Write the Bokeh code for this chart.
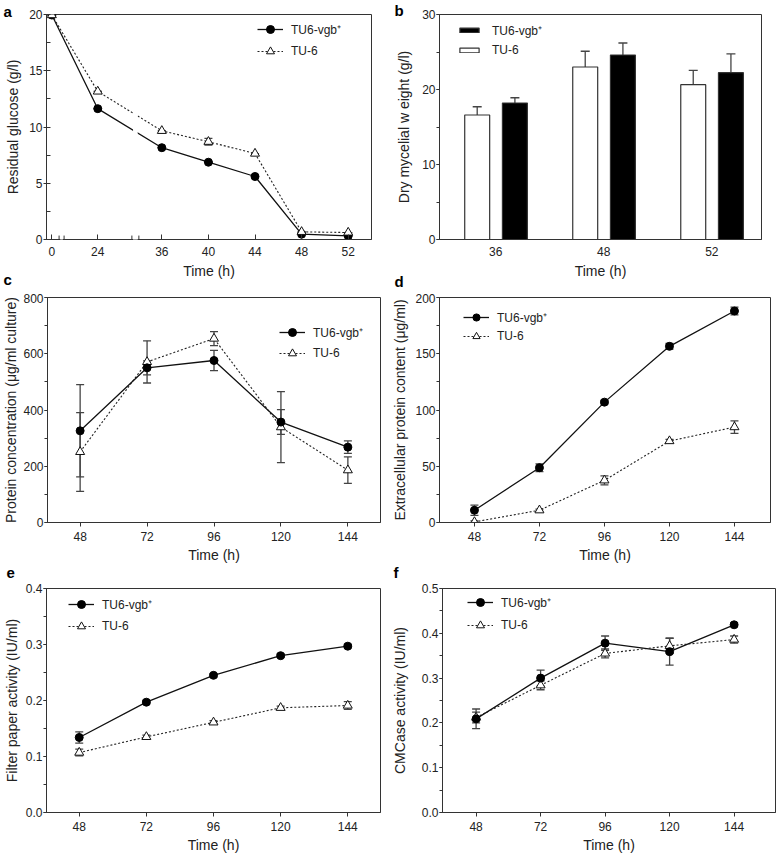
import numpy as np
from bokeh.plotting import figure
from bokeh.models import (ColumnDataSource, Whisker, TeeHead, Legend, LegendItem, Arrow, Title,
                          SingleIntervalTicker, FixedTicker, Range1d, NumeralTickFormatter)
from bokeh.layouts import column, row
from bokeh.embed import file_html
from bokeh.resources import INLINE

FONT = "Liberation Sans"
DARK = "#222222"
ERR = "#444444"
S1 = "TU6-vgb\u207a"
S2 = "TU-6"

# ---------------- data ----------------
# a: residual glucose (g/l)
glc_time = [0, 24, 36, 40, 44, 48, 52]
glc_vgb = [19.95, 11.63, 8.16, 6.87, 5.6, 0.47, 0.32]
glc_tu6 = [19.95, 13.16, 9.66, 8.69, 7.64, 0.68, 0.62]
glc_tu6_err = [0, 0, 0, 0.3, 0, 0, 0]

# b: dry mycelial weight (g/l)
dw_time = ["36", "48", "52"]
dw_tu6 = [16.6, 23.0, 20.65]
dw_tu6_err = [1.1, 2.1, 1.9]
dw_vgb = [18.2, 24.6, 22.25]
dw_vgb_err = [0.7, 1.6, 2.5]

# c-f common time axis
t_h = [48, 72, 96, 120, 144]

# c: protein concentration
pc_vgb = [326, 550, 576, 357, 268]
pc_vgb_err = [164, 25, 36, 44, 22]
pc_tu6 = [251, 571, 654, 339, 186]
pc_tu6_err = [140, 75, 25, 126, 47]

# d: extracellular protein
ep_vgb = [10.9, 48.7, 107, 156.6, 188]
ep_vgb_err = [4.5, 3.5, 1.5, 2.5, 3.5]
ep_tu6 = [0.5, 10.9, 37.5, 72.4, 84.8]
ep_tu6_err = [1.0, 1.0, 4.0, 1.5, 5.5]

# e: filter paper activity
fp_vgb = [0.134, 0.197, 0.245, 0.280, 0.297]
fp_vgb_err = [0.010, 0.003, 0.003, 0.003, 0.003]
fp_tu6 = [0.107, 0.135, 0.161, 0.187, 0.191]
fp_tu6_err = [0.006, 0.003, 0.003, 0.003, 0.007]

# f: CMCase activity
cm_vgb = [0.209, 0.300, 0.378, 0.359, 0.419]
cm_vgb_err = [0.022, 0.018, 0.016, 0.030, 0.004]
cm_tu6 = [0.212, 0.284, 0.355, 0.372, 0.386]
cm_tu6_err = [0.012, 0.010, 0.010, 0.017, 0.008]


# broken time axis for panel a (0-24 and 24-36 compressed)
def axis_pos(h):
    if h >= 36:
        return float(h)
    if h >= 24:
        return 30.5 + (h - 24) * 5.5 / 12
    return 26.56 + h * 3.94 / 24


BREAKS = [(27.18, 27.61), (33.43, 34.03)]


def base_fig(w, h, l, r, t, b, xr, yr):
    p = figure(width=w, height=h, min_border_left=l, min_border_right=r,
               min_border_top=t, min_border_bottom=b, x_range=xr, y_range=yr,
               output_backend="svg", toolbar_location=None)
    p.grid.visible = False
    p.outline_line_color = "#333333"
    p.outline_line_width = 1
    p.background_fill_color = "white"
    p.border_fill_color = "white"
    for ax in (p.xaxis[0], p.yaxis[0]):
        ax.axis_line_color = "#333333"
        ax.major_tick_line_color = "#333333"
        ax.minor_tick_line_color = "#333333"
        ax.major_label_text_font = FONT
        ax.major_label_text_font_size = "12px"
        ax.major_label_text_color = DARK
        ax.axis_label_text_font = FONT
        ax.axis_label_text_font_size = "14px"
        ax.axis_label_text_font_style = "normal"
        ax.axis_label_text_color = DARK
        ax.major_tick_in = 0
        ax.major_tick_out = 4
        ax.minor_tick_in = 0
        ax.minor_tick_out = 3
    p.xaxis.minor_tick_line_color = None
    p.xaxis.axis_label = "Time (h)"
    p.xaxis.major_label_standoff = 5
    p.xaxis.axis_label_standoff = 3
    p.yaxis.major_tick_out = 3
    p.yaxis.major_label_standoff = 1
    return p


def panel_tag(p, txt, offset, where, standoff=0, valign="bottom"):
    t = Title(text=txt, align="left", offset=offset, standoff=standoff, vertical_align=valign,
              text_font=FONT, text_font_size="15px", text_font_style="bold", text_color="black")
    p.add_layout(t, where)


def add_series(p, x, ys, errs, solid):
    lo = [v - e for v, e in zip(ys, errs)]
    hi = [v + e for v, e in zip(ys, errs)]
    src = ColumnDataSource(dict(x=x, y=ys, lo=lo, hi=hi))
    wk = Whisker(base="x", upper="hi", lower="lo", source=src, dimension="height",
                 line_color=ERR, line_width=1.3,
                 upper_head=TeeHead(size=8, line_color=ERR, line_width=1.3),
                 lower_head=TeeHead(size=8, line_color=ERR, line_width=1.3))
    p.add_layout(wk)
    if solid:
        ln = p.line("x", "y", source=src, line_color="#111111", line_width=1.3)
        mk = p.scatter("x", "y", source=src, marker="circle", size=8,
                       fill_color="black", line_color="black")
    else:
        ln = p.line("x", "y", source=src, line_color="#222222", line_width=1.1, line_dash="2 2")
        mk = p.scatter("x", "y", source=src, marker="triangle", size=9,
                       fill_color="white", line_color="#111111", line_width=1)
    return [ln, mk]


def add_legend(p, items, loc, item_h, spacing, glyph_w=26, glyph_h=None, standoff=8):
    lg = Legend(items=[LegendItem(label=lab, renderers=r) for lab, r in items],
                location=loc, orientation="vertical",
                label_text_font=FONT, label_text_font_size="12px", label_text_color=DARK,
                glyph_width=glyph_w, glyph_height=glyph_h or item_h, label_height=item_h,
                label_standoff=standoff, spacing=spacing, padding=0, margin=0,
                border_line_color=None, background_fill_alpha=0)
    p.add_layout(lg)


# ---------------- panel a ----------------
pa = base_fig(388, 293, 46, 17, 12, 54, Range1d(26.1, 54.0), Range1d(0, 20))
pos_a = [axis_pos(h) for h in glc_time]
pa.xaxis.ticker = FixedTicker(ticks=pos_a)
pa.xaxis.major_label_overrides = {pv: str(h) for pv, h in zip(pos_a, glc_time)}
pa.xaxis.major_tick_in = 5
pa.xaxis.major_tick_out = 0
pa.xaxis.major_label_standoff = 7
pa.xaxis.axis_label_standoff = 4
pa.yaxis.ticker = SingleIntervalTicker(interval=5, num_minor_ticks=2)
pa.yaxis.minor_tick_in = 4
pa.yaxis.minor_tick_out = 0
pa.yaxis.axis_label = "Residual glucose (g/l)"
pa.yaxis.axis_label_standoff = 5
ra_vgb = add_series(pa, pos_a, glc_vgb, [0] * len(glc_vgb), True)
ra_tu6 = add_series(pa, pos_a, glc_tu6, glc_tu6_err, False)
pa.quad(left=[BREAKS[1][0] + 0.1], right=[BREAKS[1][1] - 0.1], bottom=[0.3], top=[19.7],
        fill_color="white", line_color=None)
for x0, x1 in BREAKS:
    pa.add_layout(Arrow(x_start=x0 + 0.1, y_start=0, x_end=x1 - 0.1, y_end=0, end=None,
                        line_color="white", line_width=3, level="overlay"))
    for xb in (x0, x1):
        pa.add_layout(Arrow(x_start=xb, y_start=-0.35, x_end=xb, y_end=0.35, end=None,
                            line_color="#333333", line_width=1, level="overlay"))
add_legend(pa, [(S1, ra_vgb), (S2, ra_tu6)], (211, 178), 20, 2)
panel_tag(pa, "a", -43, "above", standoff=-14, valign="top")
panel_tag(pa, "c", -43, "below", standoff=-22, valign="top")

# ---------------- panel b ----------------
pb = base_fig(392, 293, 51, 19, 14, 54, Range1d(-0.521, 2.46), Range1d(0, 30))
pos_b = list(range(len(dw_time)))
pb.xaxis.ticker = FixedTicker(ticks=pos_b)
pb.xaxis.major_label_overrides = {i: t for i, t in zip(pos_b, dw_time)}
pb.yaxis.ticker = SingleIntervalTicker(interval=10, num_minor_ticks=2)
pb.yaxis.axis_label = "Dry mycelial w eight (g/l)"
pb.yaxis.axis_label_standoff = 7
pb.xaxis.major_tick_out = 0
pb.xaxis.major_label_standoff = 7
pb.xaxis.axis_label_standoff = 4
OFF_W, OFF_B, BW = -0.172, 0.177, 0.231
src_b = ColumnDataSource(dict(xw=[i + OFF_W for i in pos_b], xb=[i + OFF_B for i in pos_b],
                              tu6=dw_tu6, vgb=dw_vgb,
                              tu6_hi=[v + e for v, e in zip(dw_tu6, dw_tu6_err)],
                              vgb_hi=[v + e for v, e in zip(dw_vgb, dw_vgb_err)]))
for xc, col, hi in (("xw", "tu6", "tu6_hi"), ("xb", "vgb", "vgb_hi")):
    pb.add_layout(Whisker(base=xc, upper=hi, lower=col, source=src_b,
                          dimension="height", line_color=ERR, line_width=1.3,
                          upper_head=TeeHead(size=9, line_color=ERR, line_width=1.3), lower_head=None))
rb_tu6 = pb.vbar(x="xw", top="tu6", width=BW, source=src_b,
                 fill_color="white", line_color="#333333", line_width=1.2)
rb_vgb = pb.vbar(x="xb", top="vgb", width=BW, source=src_b,
                 fill_color="black", line_color="#333333", line_width=1.2)
add_legend(pb, [(S1, [rb_vgb]), (S2, [rb_tu6])], (18, 180), 18, 2, glyph_w=24, glyph_h=6, standoff=11)
panel_tag(pb, "b", -45, "above", standoff=-12, valign="top")
panel_tag(pb, "d", -45, "below", standoff=-18, valign="top")

# ---------------- panel c ----------------
pc = base_fig(388, 290, 44, 8, 4, 61, Range1d(36.3, 155.7), Range1d(0, 800))
pc.xaxis.ticker = FixedTicker(ticks=t_h)
pc.yaxis.ticker = SingleIntervalTicker(interval=200, num_minor_ticks=2)
pc.yaxis.axis_label = "Protein concentration (\u03bcg/ml culture)"
pc.yaxis.axis_label_standoff = 1
rc_tu6 = add_series(pc, t_h, pc_tu6, pc_tu6_err, False)
rc_vgb = add_series(pc, t_h, pc_vgb, pc_vgb_err, True)
add_legend(pc, [(S1, rc_vgb), (S2, rc_tu6)], (232, 159), 20, 1)
panel_tag(pc, "e", -41, "below")

# ---------------- panel d ----------------
pd_ = base_fig(392, 290, 51, 10, 4, 61, Range1d(35.1, 157.3), Range1d(0, 200))
pd_.xaxis.ticker = FixedTicker(ticks=t_h)
pd_.yaxis.ticker = SingleIntervalTicker(interval=50, num_minor_ticks=2)
pd_.yaxis.axis_label = "Extracellular protein content (\u03bcg/ml)"
pd_.yaxis.axis_label_standoff = 4
rd_tu6 = add_series(pd_, t_h, ep_tu6, ep_tu6_err, False)
rd_vgb = add_series(pd_, t_h, ep_vgb, ep_vgb_err, True)
add_legend(pd_, [(S1, rd_vgb), (S2, rd_tu6)], (24, 177), 18, 1)
panel_tag(pd_, "f", -46, "below", standoff=-4, valign="top")

# ---------------- panel e ----------------
pe = base_fig(388, 273, 44, 8, 5, 43, Range1d(36.3, 155.7), Range1d(0, 0.4))
pe.xaxis.ticker = FixedTicker(ticks=t_h)
pe.yaxis.ticker = SingleIntervalTicker(interval=0.1, num_minor_ticks=2)
pe.yaxis.formatter = NumeralTickFormatter(format="0.0")
pe.yaxis.axis_label = "Filter paper activity (IU/ml)"
pe.yaxis.axis_label_standoff = 3
re_tu6 = add_series(pe, t_h, fp_tu6, fp_tu6_err, False)
re_vgb = add_series(pe, t_h, fp_vgb, fp_vgb_err, True)
add_legend(pe, [(S1, re_vgb), (S2, re_tu6)], (22, 176), 20, 2)

# ---------------- panel f ----------------
pf = base_fig(392, 273, 54, 5, 3, 44, Range1d(35.5, 159.4), Range1d(0, 0.5))
pf.xaxis.ticker = FixedTicker(ticks=t_h)
pf.yaxis.ticker = SingleIntervalTicker(interval=0.1, num_minor_ticks=2)
pf.yaxis.formatter = NumeralTickFormatter(format="0.0")
pf.yaxis.axis_label = "CMCase activity (IU/ml)"
pf.yaxis.axis_label_standoff = 11
rf_tu6 = add_series(pf, t_h, cm_tu6, cm_tu6_err, False)
rf_vgb = add_series(pf, t_h, cm_vgb, cm_vgb_err, True)
add_legend(pf, [(S1, rf_vgb), (S2, rf_tu6)], (25, 177), 20, 3)

layout = column(row(pa, pb, spacing=0), row(pc, pd_, spacing=0), row(pe, pf, spacing=0), spacing=0)
open("out.html", "w").write(file_html(layout, INLINE))
